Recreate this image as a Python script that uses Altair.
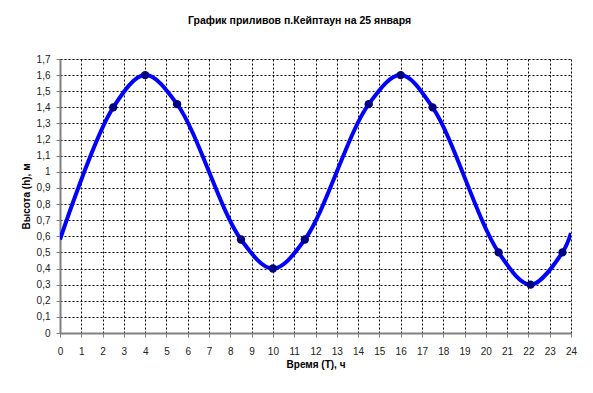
import altair as alt
import pandas as pd

# measured points (markers)
pt_t = [2.5, 4, 5.5, 8.5, 10, 11.5, 14.5, 16, 17.5, 20.6, 22.1, 23.6]
pt_h = [1.40, 1.60, 1.42, 0.58, 0.40, 0.58, 1.42, 1.60, 1.40, 0.50, 0.30, 0.50]

# smooth curve points
cv_t = [0, 2.5, 4, 5.5, 8.5, 10, 11.5, 14.5, 16, 17.5, 20.6, 22.1, 23.6, 24]
cv_h = [0.58, 1.40, 1.60, 1.42, 0.58, 0.40, 0.58, 1.42, 1.60, 1.40, 0.50, 0.30, 0.50, 0.62]

title = "График приливов п.Кейптаун на 25 января"
x_title = "Время (T), ч"
y_title = "Высота (h), м"

pts = pd.DataFrame({"t": pt_t, "h": pt_h})
cv = pd.DataFrame({"t": cv_t, "h": cv_h})

FONT = "Liberation Sans"

xscale = alt.Scale(domain=[0, 24], nice=False, zero=False)
yscale = alt.Scale(domain=[0, 1.7], nice=False)

xaxis = alt.Axis(
    title=x_title, values=list(range(0, 25)), grid=True,
    gridColor="#000000", gridDash=[2, 2], gridWidth=1, gridOpacity=1,
    domainColor="#808080", domainWidth=2, tickColor="#808080", tickSize=4, tickWidth=1,
    labelFont=FONT, labelFontSize=10, labelColor="#222222", labelPadding=9,
    titleFont=FONT, titleFontSize=10, titleFontWeight="bold", titleColor="#000000",
    titlePadding=3, labelFlush=False, labelOverlap=False,
)
yaxis = alt.Axis(
    title=y_title, values=[round(i * 0.1, 1) for i in range(0, 18)], grid=True,
    gridColor="#000000", gridDash=[2, 2], gridWidth=1, gridOpacity=1,
    domainColor="#808080", domainWidth=2, tickColor="#808080", tickSize=4, tickWidth=1,
    labelFont=FONT, labelFontSize=10, labelColor="#222222", labelPadding=6,
    labelExpr="replace(format(datum.value, '~g'), '.', ',')",
    titleFont=FONT, titleFontSize=10, titleFontWeight="bold", titleColor="#000000",
    titlePadding=5, labelFlush=False, labelOverlap=False,
)

line = alt.Chart(cv).mark_line(color="#0000FF", strokeWidth=4, interpolate="catmull-rom", clip=True).encode(
    x=alt.X("t:Q", scale=xscale, axis=xaxis),
    y=alt.Y("h:Q", scale=yscale, axis=yaxis),
)
points = alt.Chart(pts).mark_point(filled=True, color="#000080", size=70, opacity=1).encode(
    x=alt.X("t:Q", scale=xscale, axis=xaxis),
    y=alt.Y("h:Q", scale=yscale, axis=yaxis),
)

chart = alt.layer(line, points).properties(
    width=511, height=274,
    title=alt.TitleParams(title, font=FONT, fontSize=10.5, fontWeight="bold", color="#000000",
                          anchor="middle", dx=-16, offset=28),
    autosize=alt.AutoSizeParams(type="none"),
    padding={"left": 52, "top": 51, "right": 14, "bottom": 52},
).resolve_axis(x="shared", y="shared").configure_view(stroke=None).configure(background="white")

chart.save("out.html", embed_options={"renderer": "svg", "actions": False})
